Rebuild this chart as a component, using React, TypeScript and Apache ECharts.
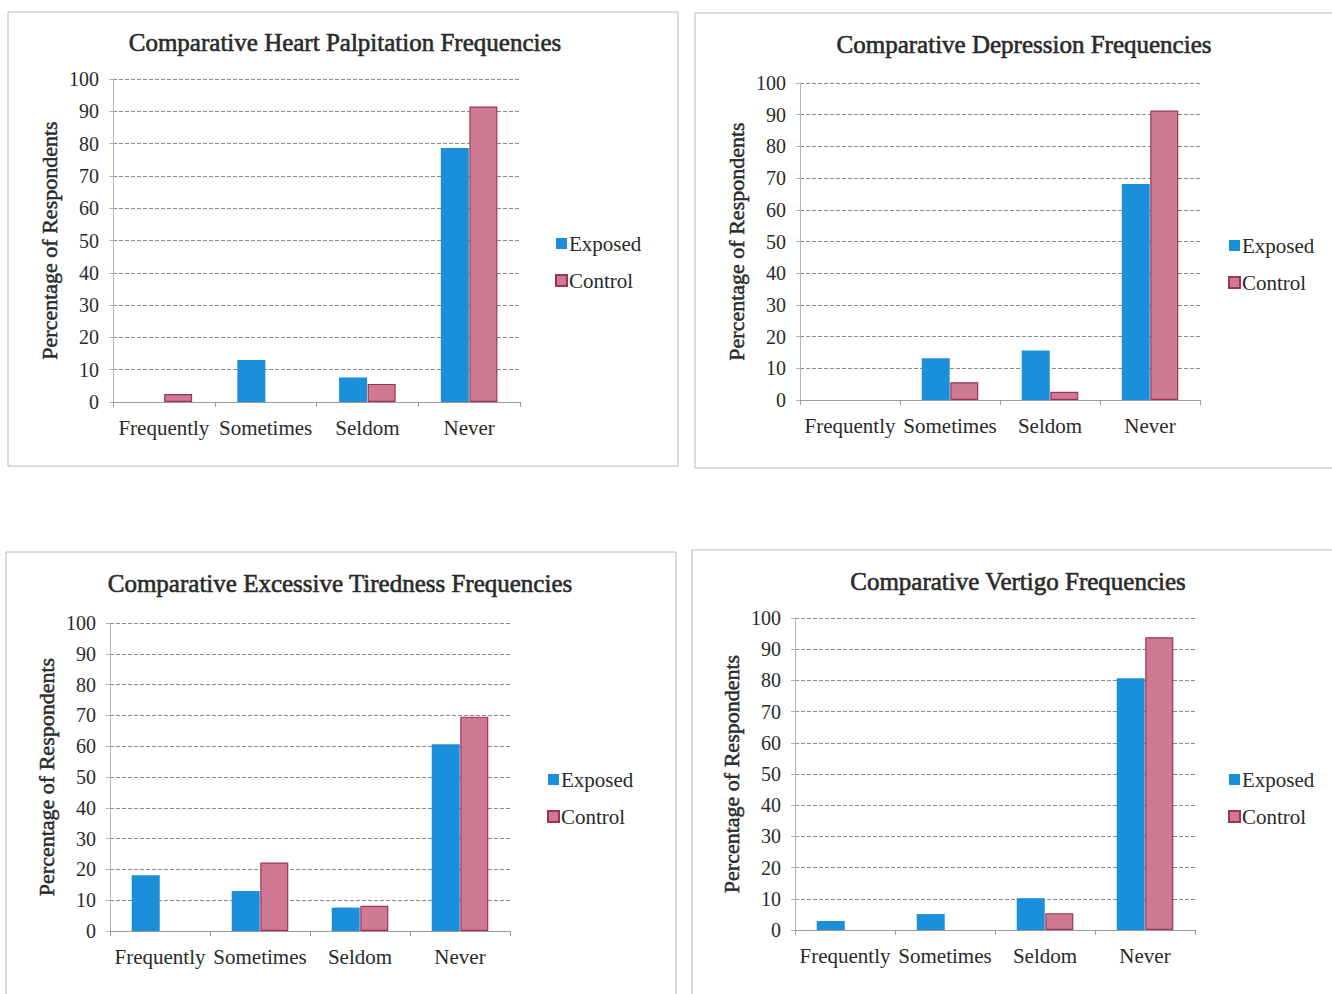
import React, { useEffect, useRef } from "react";
import * as echarts from "echarts";

const categories = ["Frequently", "Sometimes", "Seldom", "Never"];
const seriesNames = ["Exposed", "Control"];

const titles = [
  "Comparative Heart Palpitation Frequencies",
  "Comparative Depression Frequencies",
  "Comparative Excessive Tiredness Frequencies",
  "Comparative Vertigo Frequencies",
];

const palpitationExposed = [0, 13, 7.6, 78.6];
const palpitationControl = [2.5, 0, 5.6, 91.5];
const depressionExposed = [0, 13.2, 15.6, 68.1];
const depressionControl = [0, 5.6, 2.6, 91.3];
const tirednessExposed = [18.1, 13, 7.6, 60.6];
const tirednessControl = [0, 22.2, 8.2, 69.6];
const vertigoExposed = [2.9, 5.1, 10.2, 80.7];
const vertigoControl = [0, 0, 5.4, 93.8];

const exposedData = [palpitationExposed, depressionExposed, tirednessExposed, vertigoExposed];
const controlData = [palpitationControl, depressionControl, tirednessControl, vertigoControl];

const FONT = "Liberation Serif";

const panels = [
  { box: [8, 12, 670, 454], grid: [113, 79, 407, 323], title: [345, 42], legend: [550, 228] },
  { box: [695, 13, 645, 455], grid: [800, 83, 400, 317], title: [1024, 44], legend: [1223, 230] },
  { box: [6, 552, 670, 450], grid: [110, 623, 400, 308], title: [340, 583], legend: [542, 764] },
  { box: [692, 550, 650, 450], grid: [795, 618, 400, 312], title: [1018, 581], legend: [1223, 764] },
];

const toBars = (arr: number[]) => arr.map((v) => (v === 0 ? "-" : v));

export default function App() {
  const ref = useRef<HTMLDivElement>(null);
  useEffect(() => {
    if (!ref.current) return;
    const chart = echarts.init(ref.current, null, { renderer: "svg" });
    const grid: any[] = [];
    const xAxis: any[] = [];
    const yAxis: any[] = [];
    const series: any[] = [];
    const legend: any[] = [];
    const graphic: any[] = [];
    panels.forEach((p, i) => {
      graphic.push({
        type: "rect",
        shape: { x: p.box[0], y: p.box[1], width: p.box[2], height: p.box[3] },
        style: { fill: "none", stroke: "#b8b8b8", lineWidth: 1 },
        silent: true,
      });
      graphic.push({
        type: "text",
        x: p.title[0],
        y: p.title[1],
        style: {
          text: titles[i],
          fontFamily: FONT,
          fontSize: 25,
          fill: "#2a2a2a",
          stroke: "#2a2a2a",
          lineWidth: 0.6,
          align: "center",
          verticalAlign: "middle",
        },
      });
      grid.push({ left: p.grid[0], top: p.grid[1], width: p.grid[2], height: p.grid[3], containLabel: false });
      xAxis.push({
        type: "category",
        gridIndex: i,
        data: categories,
        axisLine: { show: true, lineStyle: { color: "#9a9a9a" } },
        axisTick: { show: true, length: 5, lineStyle: { color: "#9a9a9a" } },
        axisLabel: { fontFamily: FONT, fontSize: 21, color: "#2a2a2a", margin: 15, interval: 0 },
      });
      yAxis.push({
        type: "value",
        gridIndex: i,
        min: 0,
        max: 100,
        interval: 10,
        name: "Percentage of Respondents",
        nameLocation: "middle",
        nameGap: 53,
        nameRotate: 90,
        nameTextStyle: {
          fontFamily: FONT,
          fontSize: 22,
          color: "#2a2a2a",
          textBorderColor: "#2a2a2a",
          textBorderWidth: 0.5,
        },
        axisLine: { show: true, lineStyle: { color: "#a8b4c8" } },
        axisTick: { show: true, length: 4, lineStyle: { color: "#a8b4c8" } },
        axisLabel: { fontFamily: FONT, fontSize: 20, color: "#2a2a2a", margin: 14 },
        splitLine: { show: true, lineStyle: { color: "#8a8a8a", type: [4, 2], width: 1 } },
      });
      series.push({
        name: seriesNames[0],
        type: "bar",
        xAxisIndex: i,
        yAxisIndex: i,
        data: toBars(exposedData[i]),
        barWidth: 28,
        barGap: "2%",
        itemStyle: { color: "#1b8fd9" },
      });
      series.push({
        name: seriesNames[1],
        type: "bar",
        xAxisIndex: i,
        yAxisIndex: i,
        data: toBars(controlData[i]),
        barWidth: 28,
        barGap: "2%",
        itemStyle: { color: "#cf7a92", borderColor: "#9c3554", borderWidth: 1.2 },
      });
      legend.push({
        data: seriesNames,
        orient: "vertical",
        left: p.legend[0],
        top: p.legend[1],
        itemWidth: 11,
        itemHeight: 11,
        itemGap: 16,
        icon: "rect",
        textStyle: { fontFamily: FONT, fontSize: 21, color: "#2a2a2a", padding: [0, 0, 0, -3] },
      });
    });
    chart.setOption({
      animation: false,
      backgroundColor: "#ffffff",
      grid,
      xAxis,
      yAxis,
      series,
      legend,
      graphic,
    });
    return () => chart.dispose();
  }, []);
  return (
    <div
      ref={ref}
      style={{ position: "absolute", left: 0, top: 0, width: 1332, height: 994 }}
    />
  );
}
